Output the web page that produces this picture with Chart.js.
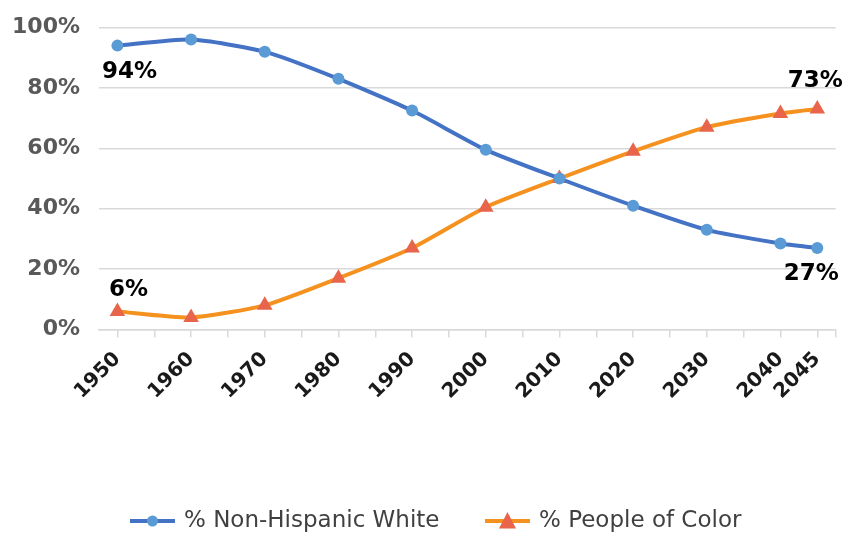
<!DOCTYPE html>
<html>
<head>
<meta charset="utf-8">
<script src="https://cdn.jsdelivr.net/npm/chart.js@4/dist/chart.umd.min.js"></script>
<style>
  html, body { margin: 0; padding: 0; background: #fff; }
  #wrap { width: 856px; height: 536px; position: relative; }
</style>
</head>
<body>
<div id="wrap"><canvas id="c"></canvas></div>
<script>
// Share of the population, by year
const years = [1950, 1960, 1970, 1980, 1990, 2000, 2010, 2020, 2030, 2040, 2045];
const nonHispanicWhite = [94, 96, 92, 83, 72.5, 59.5, 50, 41, 33, 28.5, 27];
const peopleOfColor = [6, 4, 8, 17, 27, 40.5, 50, 59, 67, 71.5, 73];

// Axis ticks
const yTicks = [0, 20, 40, 60, 80, 100];
const xTickMarks = [1950, 1955, 1960, 1965, 1970, 1975, 1980, 1985, 1990, 1995, 2000,
                    2005, 2010, 2015, 2020, 2025, 2030, 2035, 2040, 2045, 2047.5];
const xLabelYears = years;

const seriesNames = ['% Non-Hispanic White', '% People of Color'];

const BLUE_LINE = '#4472C4', BLUE_MARK = '#5B9BD5';
const ORANGE_LINE = '#F5911E', ORANGE_MARK = '#E8644B';
const FONT = '"DejaVu Sans", sans-serif';

// Marker shapes shared by the legend swatches
function drawMarker(g, shape, x, y, color) {
  g.fillStyle = color;
  g.beginPath();
  if (shape === 'circle') {
    g.arc(x, y, 5.5, 0, Math.PI * 2);
  } else {
    g.moveTo(x, y - 9); g.lineTo(x + 8.5, y + 7.5); g.lineTo(x - 8.5, y + 7.5); g.closePath();
  }
  g.fill();
}

// Legend along the bottom: line swatch with marker, then the series name
const legendItems = [
  { x: 130, line: BLUE_LINE, mark: BLUE_MARK, shape: 'circle' },
  { x: 485, line: ORANGE_LINE, mark: ORANGE_MARK, shape: 'triangle' }
];
const legendPlugin = {
  id: 'swatchLegend',
  afterDraw(chart) {
    const ctx = chart.ctx;
    const y = 521;
    ctx.save();
    ctx.font = '23px ' + FONT;
    ctx.textAlign = 'left';
    ctx.textBaseline = 'middle';
    legendItems.forEach((it, i) => {
      ctx.strokeStyle = it.line;
      ctx.lineWidth = 4;
      ctx.beginPath(); ctx.moveTo(it.x, y); ctx.lineTo(it.x + 45, y); ctx.stroke();
      drawMarker(ctx, it.shape, it.x + 22.5, y, it.mark);
      ctx.fillStyle = '#404040';
      ctx.fillText(chart.data.datasets[i].label, it.x + 54, y);
    });
    ctx.restore();
  }
};

// End-point value labels (dataset index, point index, offset from the point)
const endLabels = [
  { ds: 0, i: 0, dx: 12, dy: 24.5 },
  { ds: 1, i: 0, dx: 11, dy: -24 },
  { ds: 1, i: years.length - 1, dx: -2, dy: -30 },
  { ds: 0, i: years.length - 1, dx: -6, dy: 24 }
];
const valueLabelPlugin = {
  id: 'valueLabels',
  afterDatasetsDraw(chart) {
    const ctx = chart.ctx;
    ctx.save();
    ctx.font = 'bold 23px ' + FONT;
    ctx.fillStyle = '#000';
    ctx.textAlign = 'center';
    ctx.textBaseline = 'alphabetic';
    endLabels.forEach(l => {
      const pt = chart.getDatasetMeta(l.ds).data[l.i];
      const v = chart.data.datasets[l.ds].data[l.i].y;
      ctx.fillText(Math.round(v) + '%', pt.x + l.dx, pt.y + l.dy + 8.3);
    });
    ctx.restore();
  }
};

new Chart(document.getElementById('c'), {
  type: 'line',
  data: {
    datasets: [
      {
        label: seriesNames[0],
        data: years.map((y, i) => ({ x: y, y: nonHispanicWhite[i] })),
        borderColor: BLUE_LINE,
        backgroundColor: BLUE_MARK,
        borderWidth: 4,
        pointStyle: 'circle',
        pointRadius: 6,
        pointBorderWidth: 0,
        pointBackgroundColor: BLUE_MARK,
        tension: 0.2
      },
      {
        label: seriesNames[1],
        data: years.map((y, i) => ({ x: y, y: peopleOfColor[i] })),
        borderColor: ORANGE_LINE,
        backgroundColor: ORANGE_MARK,
        borderWidth: 4,
        pointStyle: 'triangle',
        pointRadius: 9,
        pointBorderWidth: 0,
        pointBackgroundColor: ORANGE_MARK,
        tension: 0.2
      }
    ]
  },
  options: {
    responsive: true,
    maintainAspectRatio: false,
    animation: false,
    layout: { padding: { left: 0, right: 20.3, top: 27.5, bottom: 0 } },
    plugins: {
      tooltip: { enabled: false },
      legend: { display: false }
    },
    scales: {
      x: {
        type: 'linear',
        min: 1947.5,
        max: 2047.5,
        afterBuildTicks(scale) { scale.ticks = xTickMarks.map(v => ({ value: v })); },
        afterFit(scale) {
          scale.height = 206.5;
          scale.paddingLeft = 0;
          scale.paddingRight = 0;
        },
        ticks: {
          autoSkip: false,
          minRotation: 45,
          maxRotation: 45,
          color: '#1a1a1a',
          font: { family: FONT, size: 20, weight: 'bold' },
          padding: 10,
          callback: v => (xLabelYears.includes(v) ? String(v) : '')
        },
        grid: {
          display: true,
          drawOnChartArea: false,
          drawTicks: true,
          tickLength: 8,
          color: '#d9d9d9',
          lineWidth: 1.5
        },
        border: { display: true, color: '#d9d9d9', width: 1.5 }
      },
      y: {
        min: 0,
        max: 100,
        afterBuildTicks(scale) { scale.ticks = yTicks.map(v => ({ value: v })); },
        afterFit(scale) {
          scale.width = 99;
          scale.paddingTop = 0;
          scale.paddingBottom = 0;
        },
        ticks: {
          color: '#595959',
          padding: 19,
          font: { family: FONT, size: 22, weight: 'bold' },
          callback: v => v + '%'
        },
        grid: { color: '#d9d9d9', lineWidth: 1.5, drawTicks: false },
        border: { display: false }
      }
    }
  },
  plugins: [valueLabelPlugin, legendPlugin]
});
</script>
</body>
</html>
